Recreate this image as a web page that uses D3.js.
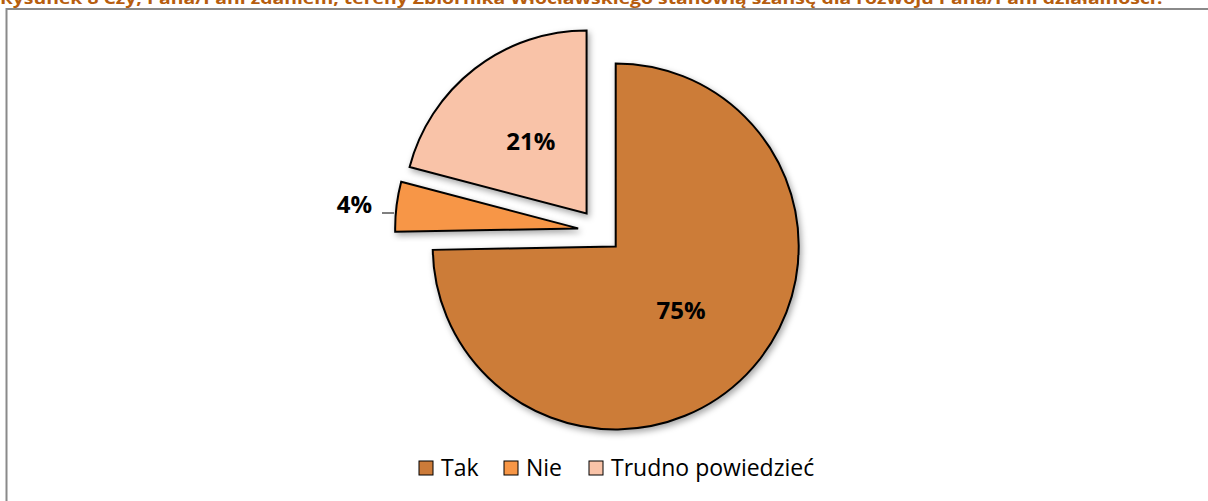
<!DOCTYPE html>
<html>
<head>
<meta charset="utf-8">
<script src="https://cdn.jsdelivr.net/npm/d3@7"></script>
<style>
  body { margin: 0; background: #fff; }
  svg { display: block; font-family: "Open Sans", Lato, sans-serif; }
</style>
</head>
<body>
<div id="chart"></div>
<script>
// data
const categories = ["Tak", "Nie", "Trudno powiedzieć"];
const values = [74.7, 4.4, 20.9];
const colors = ["#cc7b39", "#f79646", "#f9c3a8"];
const title = "Rysunek 8 Czy, Pana/Pani zdaniem, tereny Zbiornika Włocławskiego stanowią szansę dla rozwoju Pana/Pani działalności?";

let w = 1208;
let h = 501;
let cx = 600, cy = 231;
let radius = 183;
let explode = 22;

const svg = d3.select("#chart")
    .append("svg")
    .attr("width", w)
    .attr("height", h);

// drop shadow like the office chart
const defs = svg.append("defs");
const f = defs.append("filter")
    .attr("id", "shadow")
    .attr("x", "-20%").attr("y", "-20%")
    .attr("width", "140%").attr("height", "140%");
f.append("feDropShadow")
    .attr("dx", 2).attr("dy", 3)
    .attr("stdDeviation", 3)
    .attr("flood-color", "#000")
    .attr("flood-opacity", 0.35);

// frame
svg.append("rect")
    .attr("x", 6.5).attr("y", 9)
    .attr("width", w + 20).attr("height", h + 20)
    .attr("fill", "none")
    .attr("stroke", "#8a8a8a")
    .attr("stroke-width", 2);

// title (cut at the top like the source)
svg.append("text")
    .attr("x", 0)
    .attr("y", 4)
    .attr("textLength", 1165)
    .attr("lengthAdjust", "spacingAndGlyphs")
    .style("font-size", "16px")
    .style("font-weight", "bold")
    .style("fill", "#b65d0e")
    .text(title);

const pie = d3.pie().sort(null).value(d => d);
const arcs = pie(values);
const arc = d3.arc().innerRadius(0).outerRadius(radius);

const offset = (d) => {
    let a = (d.startAngle + d.endAngle) / 2;
    return [explode * Math.sin(a), -explode * Math.cos(a)];
};

const g = svg.append("g").attr("transform", `translate(${cx},${cy})`);

g.selectAll("path")
    .data(arcs)
    .enter()
    .append("path")
    .attr("d", arc)
    .attr("transform", d => `translate(${offset(d)[0]},${offset(d)[1]})`)
    .attr("fill", (d, i) => colors[i])
    .attr("stroke", "#000")
    .attr("stroke-width", 2)
    .attr("stroke-linejoin", "miter")
    .attr("filter", "url(#shadow)");

// labels
const labelArc = d3.arc().innerRadius(radius * 0.5).outerRadius(radius * 0.5);
g.selectAll(".lbl")
    .data(arcs)
    .enter()
    .append("text")
    .attr("class", "lbl")
    .attr("x", (d, i) => {
        if (i === 1) return -radius - explode - 23;
        return labelArc.centroid(d)[0] + offset(d)[0];
    })
    .attr("y", (d, i) => {
        if (i === 1) return -18;
        return labelArc.centroid(d)[1] + offset(d)[1] + 9;
    })
    .attr("text-anchor", (d, i) => i === 1 ? "end" : "middle")
    .style("font-size", "24px")
    .style("font-weight", "bold")
    .text(d => Math.round(d.value) + "%");

// leader line for the small slice
g.append("line")
    .attr("x1", -radius - explode - 13)
    .attr("x2", -radius - explode - 1)
    .attr("y1", -18).attr("y2", -18)
    .attr("stroke", "#000")
    .attr("stroke-width", 1);

// legend
const legX = [419, 504, 589];
const leg = svg.append("g");
categories.forEach((c, i) => {
    leg.append("rect")
        .attr("x", legX[i]).attr("y", 461)
        .attr("width", 14).attr("height", 14)
        .attr("fill", colors[i])
        .attr("stroke", "#000")
        .attr("stroke-width", 1);
    leg.append("text")
        .attr("x", legX[i] + 22)
        .attr("y", 476)
        .style("font-size", "23px")
        .text(c);
});
</script>
</body>
</html>
